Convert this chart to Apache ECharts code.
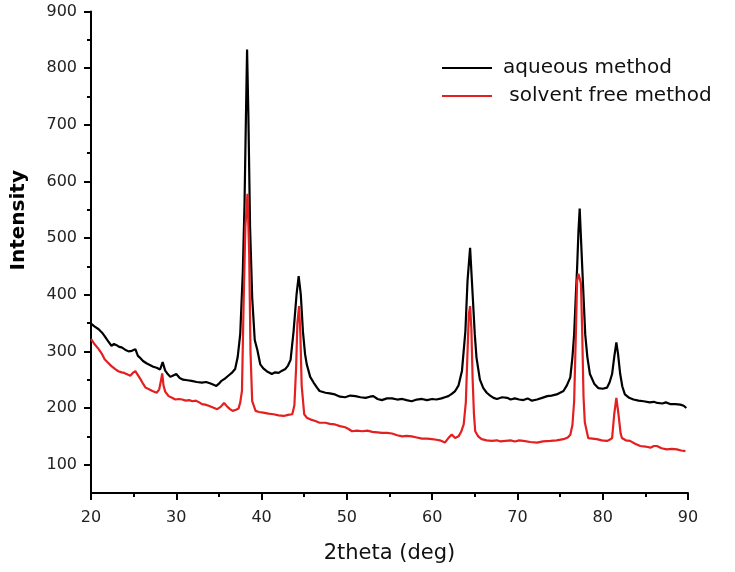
<!DOCTYPE html>
<html>
<head>
<meta charset="utf-8">
<script src="https://cdn.jsdelivr.net/npm/echarts@6/dist/echarts.min.js"></script>
<style>html,body{margin:0;padding:0;background:#fff}#c{width:735px;height:572px}</style>
</head>
<body>
<div id="c"></div>
<script>
var seriesNames = ['aqueous method', ' solvent free method'];
var xTicks = [20, 30, 40, 50, 60, 70, 80, 90];
var yMajorTicks = [100, 200, 300, 400, 500, 600, 700, 800, 900];
var yMinorTicks = [150, 250, 350, 450, 550, 650, 750, 850];

var aqueous = [[20.0,349],[20.4,344],[20.9,339],[21.3,333],[21.6,327],[22.0,318],[22.4,310],[22.7,313],[23.0,311],[23.3,308],[23.6,307],[24.0,303],[24.4,300],[24.8,301],[25.2,304],[25.5,292],[25.8,288],[26.1,283],[26.5,279],[26.9,276],[27.3,273],[27.7,271],[28.1,268],[28.4,281],[28.7,266],[29.0,260],[29.3,255],[29.7,258],[30.0,260],[30.4,253],[30.8,250],[31.3,249],[31.8,248],[32.4,246],[33.0,245],[33.5,246],[34.1,243],[34.7,239],[35.0,243],[35.3,248],[35.7,252],[36.1,257],[36.5,262],[36.9,269],[37.2,290],[37.5,331],[37.8,440],[38.0,560],[38.15,700],[38.3,833],[38.45,720],[38.65,520],[38.9,395],[39.2,320],[39.5,303],[39.85,277],[40.2,270],[40.6,265],[41.2,260],[41.6,263],[42.0,262],[42.4,266],[42.8,269],[43.1,275],[43.4,285],[43.75,335],[44.1,400],[44.35,433],[44.6,400],[44.85,335],[45.1,295],[45.3,277],[45.7,255],[46.1,245],[46.5,236],[46.8,230],[47.5,227],[48.0,226],[48.6,224],[49.2,220],[49.8,219],[50.4,222],[51.0,221],[51.6,219],[52.2,218],[52.7,220],[53.1,221],[53.6,216],[54.1,214],[54.7,217],[55.3,217],[55.9,215],[56.5,216],[57.0,214],[57.6,212],[58.2,215],[58.8,216],[59.4,214],[60.0,216],[60.5,215],[61.1,217],[61.5,219],[61.9,221],[62.3,225],[62.7,230],[63.1,240],[63.5,266],[63.9,336],[64.15,425],[64.45,483],[64.75,400],[65.0,330],[65.2,289],[65.6,250],[66.0,235],[66.4,227],[66.8,222],[67.2,218],[67.6,216],[68.2,219],[68.8,218],[69.2,215],[69.7,217],[70.2,215],[70.7,214],[71.2,217],[71.7,213],[72.3,215],[72.9,218],[73.5,221],[74.0,222],[74.6,224],[75.0,227],[75.4,230],[75.8,240],[76.2,254],[76.45,290],[76.65,330],[76.85,400],[77.0,448],[77.15,510],[77.3,552],[77.45,500],[77.6,448],[77.8,380],[77.95,330],[78.2,290],[78.5,260],[79.0,243],[79.5,235],[80.0,234],[80.5,236],[80.8,245],[81.1,260],[81.35,290],[81.6,316],[81.8,295],[82.05,260],[82.3,238],[82.6,224],[83.1,218],[83.6,215],[84.2,213],[84.8,212],[85.5,210],[86.0,211],[86.4,209],[87.0,208],[87.4,210],[87.9,207],[88.5,207],[89.1,206],[89.5,204],[89.8,200]];

var solventFree = [[20.0,322],[20.4,313],[20.9,304],[21.3,295],[21.6,286],[22.0,280],[22.4,274],[22.8,269],[23.2,265],[23.6,263],[23.9,262],[24.3,259],[24.6,257],[24.9,262],[25.2,265],[25.5,258],[25.8,251],[26.1,243],[26.4,236],[26.8,233],[27.2,230],[27.7,227],[28.0,233],[28.2,248],[28.35,261],[28.5,240],[28.7,229],[29.1,221],[29.5,218],[29.9,215],[30.3,216],[30.7,215],[31.1,213],[31.5,214],[31.9,212],[32.3,213],[32.7,210],[33.0,207],[33.4,206],[33.8,204],[34.3,201],[34.8,198],[35.2,202],[35.6,209],[36.0,202],[36.3,198],[36.6,195],[37.0,197],[37.3,199],[37.5,210],[37.7,230],[37.9,389],[38.1,520],[38.35,578],[38.55,470],[38.7,300],[38.9,212],[39.3,195],[39.7,193],[40.2,192],[40.8,190],[41.4,189],[42.0,187],[42.6,186],[43.1,188],[43.6,189],[43.85,205],[44.05,271],[44.2,350],[44.4,380],[44.55,330],[44.7,240],[45.0,189],[45.3,183],[45.7,180],[46.3,177],[46.8,174],[47.5,174],[48.0,172],[48.6,171],[49.2,168],[49.8,166],[50.2,163],[50.6,159],[51.2,160],[51.8,159],[52.4,160],[53.0,158],[53.6,157],[54.1,156],[54.7,156],[55.3,155],[55.9,152],[56.5,150],[57.0,151],[57.6,150],[58.2,148],[58.8,146],[59.4,146],[60.0,145],[60.5,144],[60.9,143],[61.5,139],[61.9,147],[62.3,153],[62.7,147],[63.1,150],[63.4,158],[63.7,171],[63.95,210],[64.15,300],[64.3,365],[64.45,380],[64.6,340],[64.75,250],[64.9,190],[65.05,159],[65.4,150],[65.8,145],[66.4,143],[67.0,142],[67.6,143],[68.0,141],[68.6,142],[69.2,143],[69.7,141],[70.2,143],[70.7,142],[71.5,140],[72.3,139],[73.0,141],[73.85,142],[74.6,143],[75.4,145],[75.9,148],[76.2,153],[76.45,170],[76.65,212],[76.85,330],[77.0,425],[77.15,437],[77.3,437],[77.45,420],[77.6,330],[77.75,220],[77.9,175],[78.3,147],[78.8,146],[79.3,145],[79.9,143],[80.5,142],[80.8,144],[81.1,147],[81.35,189],[81.6,218],[81.85,189],[82.1,155],[82.25,147],[82.7,143],[83.2,142],[83.8,137],[84.4,133],[85.0,132],[85.6,130],[86.0,133],[86.35,133],[86.9,129],[87.5,127],[88.1,128],[88.7,127],[89.2,125],[89.7,124]];

var FONT = 'DejaVu Sans';
var gridBox = {left: 91, right: 47, top: 11.5, bottom: 79, containLabel: false};
var chart = echarts.init(document.getElementById('c'), null, {renderer: 'canvas'});
chart.setOption({
  animation: false,
  backgroundColor: '#ffffff',
  grid: [Object.assign({}, gridBox), Object.assign({}, gridBox)],
  legend: {
    orient: 'vertical',
    left: 442,
    top: 58,
    padding: 0,
    itemWidth: 50,
    itemHeight: 2,
    itemGap: 8,
    icon: 'rect',
    data: seriesNames,
    textStyle: {fontFamily: FONT, fontSize: 20, color: '#111', padding: [0, 0, 6, 6]}
  },
  xAxis: [{
    type: 'value', gridIndex: 0,
    min: xTicks[0], max: xTicks[xTicks.length - 1], interval: 10,
    name: '2theta (deg)', nameLocation: 'middle', nameGap: 50,
    nameTextStyle: {fontFamily: FONT, fontSize: 21, color: '#111'},
    axisLine: {show: true, lineStyle: {color: '#000', width: 2}},
    axisTick: {show: true, inside: false, length: 7, lineStyle: {color: '#000', width: 2}},
    minorTick: {show: true, splitNumber: 2, length: 4, lineStyle: {color: '#000', width: 2}},
    axisLabel: {fontFamily: FONT, fontSize: 16, color: '#222', margin: 17},
    splitLine: {show: false}
  }, {
    type: 'value', gridIndex: 1, min: 20, max: 90, show: false
  }],
  yAxis: [{
    type: 'value', gridIndex: 0,
    min: 50, max: 900,
    name: 'Intensity', nameLocation: 'middle', nameGap: 62,
    nameTextStyle: {fontFamily: FONT, fontSize: 20, fontWeight: 'bold', color: '#000', padding: [0, 0, 0, 64]},
    axisLine: {show: true, lineStyle: {color: '#000', width: 2}},
    axisTick: {show: true, inside: false, length: 7, customValues: yMajorTicks, lineStyle: {color: '#000', width: 2}},
    axisLabel: {fontFamily: FONT, fontSize: 16, color: '#222', margin: 14, customValues: yMajorTicks},
    splitLine: {show: false}
  }, {
    type: 'value', gridIndex: 1,
    min: 50, max: 900,
    axisLine: {show: false},
    axisTick: {show: true, inside: false, length: 4, customValues: yMinorTicks, lineStyle: {color: '#000', width: 2}},
    axisLabel: {show: false, customValues: yMinorTicks},
    splitLine: {show: false}
  }],
  series: [{
    name: seriesNames[0], type: 'line', xAxisIndex: 0, yAxisIndex: 0,
    data: aqueous, showSymbol: false, symbol: 'none',
    lineStyle: {color: '#000', width: 2.2}, itemStyle: {color: '#000'}, z: 2
  }, {
    name: seriesNames[1], type: 'line', xAxisIndex: 0, yAxisIndex: 0,
    data: solventFree, showSymbol: false, symbol: 'none',
    lineStyle: {color: '#e41f1f', width: 2.2}, itemStyle: {color: '#e41f1f'}, z: 3
  }]
});
</script>
</body>
</html>
